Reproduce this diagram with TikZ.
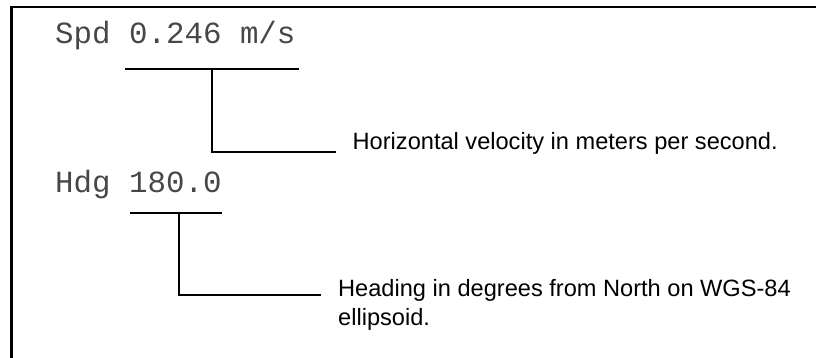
\documentclass[tikz,border=0pt]{standalone}
\usepackage{fontspec}
\setmainfont{Liberation Sans}
\newfontfamily\lcdfont{Liberation Mono}
\begin{document}
\begin{tikzpicture}[x=1pt,y=-1pt,
  frame/.style={line width=2.8pt, line cap=rect},
  leader/.style={line width=2pt},
  readout/.style={inner sep=0pt, anchor=base west, text=black!72,
    font=\lcdfont\fontsize{30.8}{30.8}\selectfont},
  note/.style={inner sep=0pt, anchor=base west, align=left,
    font=\fontsize{23.6}{28.5}\selectfont}]
\useasboundingbox (0,0) rectangle (816,357);
% frame
\coordinate (fTR) at (818,7);
\coordinate (fTL) at (11.5,7);
\coordinate (fBL) at (11.5,359);
\draw[frame] (fTR) -- (fTL) -- (fBL);
% readouts
\node[readout] (spd) at (55,43) {Spd 0.246 m/s};
\node[readout] (hdg) at (55,192) {Hdg 180.0};
% notes (base anchor of a two-line node is its last line)
\node[note] (n1) at (352.5,149) {Horizontal velocity in meters per second.};
\node[note] (n2) at (338,325) {Heading in degrees from North on WGS-84\\ellipsoid.};
% leader 1
\coordinate (u1a) at (125,69);
\coordinate (u1b) at (299,69);
\coordinate (u1m) at (212,69);
\coordinate (u1c) at (212,151.5);
\coordinate (u1d) at (336,151.5);
\draw[leader] (u1a) -- (u1b);
\draw[leader] (u1m) -- (u1c) -- (u1d);
% leader 2
\coordinate (u2a) at (130,212.7);
\coordinate (u2b) at (222,212.7);
\coordinate (u2m) at (179,212.7);
\coordinate (u2c) at (179,294.5);
\coordinate (u2d) at (321,294.5);
\draw[leader] (u2a) -- (u2b);
\draw[leader] (u2m) -- (u2c) -- (u2d);
\end{tikzpicture}
\end{document}
